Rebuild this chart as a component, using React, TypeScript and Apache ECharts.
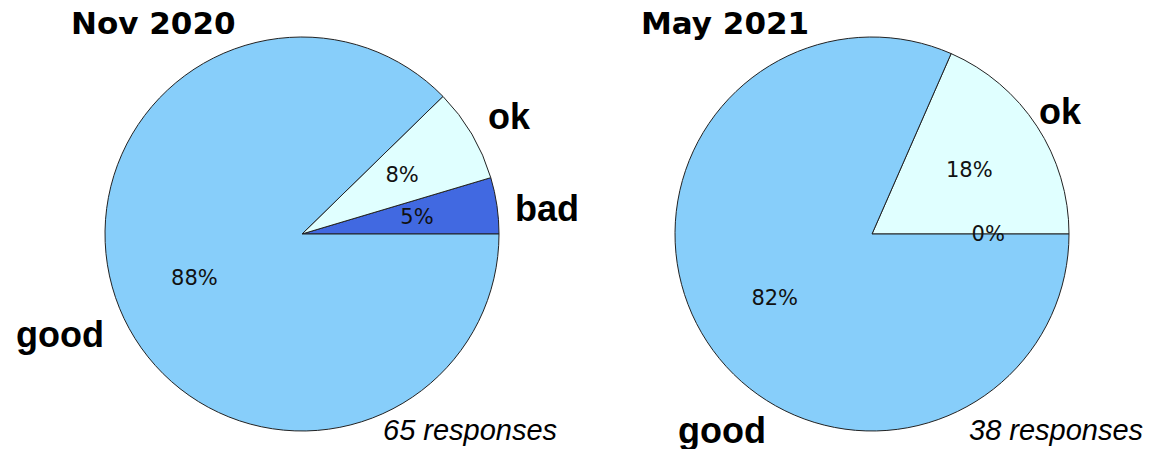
import React, { useEffect, useRef } from "react";
import * as echarts from "echarts";

// Survey answers, in drawing order (counter-clockwise from 3 o'clock)
const categories = ["bad", "ok", "good"];
const sliceColors = ["#4169E1", "#E0FFFF", "#87CEFA"];
const nov2020Counts = [3, 5, 57];
const may2021Counts = [0, 7, 31];
const panelTitles = ["Nov 2020", "May 2021"];

const W = 1157;
const H = 449;
const R = 197;
const centers: [number, number][] = [
  [302, 234],
  [872, 234],
];

const sum = (a: number[]) => a.reduce((s, v) => s + v, 0);

function pieSeries(counts: number[], center: [number, number]) {
  const data = counts.map((v, i) => ({
    name: categories[i],
    value: v,
    itemStyle: { color: sliceColors[i] },
  }));
  return [
    {
      type: "pie",
      center,
      radius: R,
      startAngle: 0,
      clockwise: false,
      avoidLabelOverlap: false,
      label: { show: false },
      labelLine: { show: false },
      itemStyle: { borderColor: "#222", borderWidth: 1 },
      emphasis: { disabled: true },
      data,
      z: 2,
    },
    // transparent twin whose inner labels sit at 0.6 of the pie radius
    {
      type: "pie",
      center,
      radius: R * 1.2 - 10,
      startAngle: 0,
      clockwise: false,
      silent: true,
      avoidLabelOverlap: false,
      label: {
        show: true,
        position: "inside",
        color: "#111",
        fontFamily: "DejaVu Sans",
        fontSize: 21,
        formatter: (p: any) => `${Math.round(p.percent)}%`,
      },
      labelLine: { show: false },
      itemStyle: { color: "rgba(0,0,0,0)", borderWidth: 0 },
      emphasis: { disabled: true },
      data: counts.map((v, i) => ({ name: categories[i], value: v })),
      z: 3,
    },
  ];
}

const titleFont = "bold 31px 'DejaVu Sans'";
const catFont = "bold 36px 'Liberation Sans'";
const noteFont = "italic 29px 'Liberation Sans'";

function txt(text: string, x: number, y: number, font: string, align = "left") {
  return {
    type: "text",
    x,
    y,
    z: 10,
    style: { text, font, fill: "#000", textAlign: align, textVerticalAlign: "middle" },
  };
}

export default function App() {
  const ref = useRef<HTMLDivElement>(null);
  useEffect(() => {
    if (!ref.current) return;
    const chart = echarts.init(ref.current, undefined, { renderer: "svg" });
    chart.setOption({
      animation: false,
      backgroundColor: "#fff",
      series: [
        ...pieSeries(nov2020Counts, centers[0]),
        ...pieSeries(may2021Counts, centers[1]),
      ],
      graphic: [
        txt(panelTitles[0], 71, 23, titleFont),
        txt(panelTitles[1], 641, 23, titleFont),
        txt("ok", 488, 116, catFont),
        txt("bad", 515, 208, catFont),
        txt("good", 16, 334, catFont),
        txt("ok", 1039, 111, catFont),
        txt("good", 678, 430, catFont),
        txt(`${sum(nov2020Counts)} responses`, 383, 430, noteFont),
        txt(`${sum(may2021Counts)} responses`, 969, 430, noteFont),
      ],
    });
    return () => chart.dispose();
  }, []);
  return (
    <div
      ref={ref}
      style={{ position: "fixed", left: 0, top: 0, width: W, height: H }}
    />
  );
}
